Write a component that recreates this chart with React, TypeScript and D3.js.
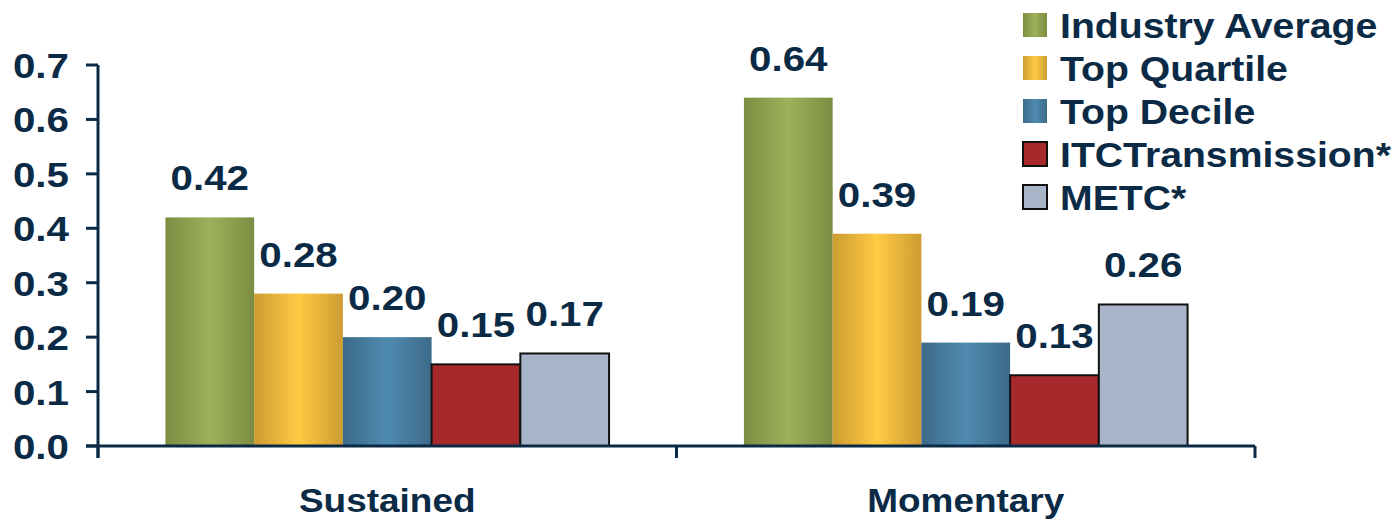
import * as d3 from "d3";

// Grouped bar chart: reliability index by category, five benchmark series.

const categories = ["Sustained", "Momentary"];
const series = ["Industry Average", "Top Quartile", "Top Decile", "ITCTransmission*", "METC*"];
const sustained = [0.42, 0.28, 0.2, 0.15, 0.17];
const momentary = [0.64, 0.39, 0.19, 0.13, 0.26];
const yTicks = [0, 0.1, 0.2, 0.3, 0.4, 0.5, 0.6, 0.7];

const INK = "#0a2a45";
const FONT = "'Liberation Sans', Arial, sans-serif";
// the source text is a little wider than plain Arial bold
const STRETCH = 1.12;

// gradient stops: edge, center, edge — flat ones get a black outline
const fills: { edge: string; mid: string; flat?: boolean }[] = [
  { edge: "#7c8d42", mid: "#9db05a" },
  { edge: "#cc9c32", mid: "#ffca43" },
  { edge: "#3c6a89", mid: "#4f8bb0" },
  { edge: "#a8292b", mid: "#a8292b", flat: true },
  { edge: "#a8b4c8", mid: "#a8b4c8", flat: true },
];

const W = 1392;
const H = 523;

function Label({
  x,
  y,
  size,
  anchor = "start",
  children,
}: {
  x: number;
  y: number;
  size: number;
  anchor?: "start" | "middle" | "end";
  children: React.ReactNode;
}) {
  return (
    <text
      transform={`translate(${x},${y}) scale(${STRETCH},1)`}
      textAnchor={anchor}
      fontSize={size}
      fontWeight="bold"
      fill={INK}
    >
      {children}
    </text>
  );
}

export default function App() {
  const values = [sustained, momentary];
  const y = d3.scaleLinear().domain([0, 0.7]).range([446, 65]);
  const x0 = d3.scaleBand<string>().domain(categories).range([98, 1255]).padding(0);
  const x1 = d3
    .scaleBand<string>()
    .domain(series)
    .range([0, x0.bandwidth()])
    .paddingInner(0)
    .paddingOuter(0.76);

  const edges = [98, 98 + x0.bandwidth(), 1255];

  return (
    <svg
      width={W}
      height={H}
      style={{ position: "absolute", left: 0, top: 0, background: "#fff" }}
      fontFamily={FONT}
    >
      <defs>
        {fills.map((f, i) => (
          <linearGradient key={i} id={`g${i}`} x1="0" x2="1" y1="0" y2="0">
            <stop offset="0" stopColor={f.edge} />
            <stop offset="0.5" stopColor={f.mid} />
            <stop offset="1" stopColor={f.edge} />
          </linearGradient>
        ))}
      </defs>

      {/* bars */}
      {categories.map((c, ci) =>
        series.map((s, si) => {
          const v = values[ci][si];
          const bx = (x0(c) ?? 0) + (x1(s) ?? 0);
          const bw = x1.bandwidth();
          const top = y(v);
          const f = fills[si];
          return (
            <g key={c + s}>
              <rect
                x={bx}
                y={top}
                width={bw}
                height={y(0) - top}
                fill={f.flat ? f.mid : `url(#g${si})`}
                stroke={f.flat ? "#111" : "none"}
                strokeWidth={f.flat ? 2 : 0}
              />
              <Label x={bx + bw / 2} y={top - 27} size={36} anchor="middle">
                {v.toFixed(2)}
              </Label>
            </g>
          );
        })
      )}

      {/* y axis */}
      <line x1={98} x2={98} y1={65} y2={458} stroke={INK} strokeWidth={3} />
      {yTicks.map((t) => (
        <g key={t}>
          <line x1={86} x2={98} y1={y(t)} y2={y(t)} stroke={INK} strokeWidth={3} />
          <Label x={69} y={y(t) + 13} size={36} anchor="end">
            {t.toFixed(1)}
          </Label>
        </g>
      ))}

      {/* x axis */}
      <line x1={86} x2={1255} y1={y(0)} y2={y(0)} stroke={INK} strokeWidth={3} />
      {edges.map((e, i) => (
        <line key={i} x1={e} x2={e} y1={y(0)} y2={458} stroke={INK} strokeWidth={3} />
      ))}
      {categories.map((c) => (
        <Label key={c} x={(x0(c) ?? 0) + x0.bandwidth() / 2} y={512} size={33} anchor="middle">
          {c}
        </Label>
      ))}

      {/* legend */}
      {series.map((s, i) => {
        const cy = 25 + i * 43;
        const f = fills[i];
        return (
          <g key={s}>
            <rect
              x={1023}
              y={cy - 12}
              width={24}
              height={24}
              fill={f.flat ? f.mid : `url(#g${i})`}
              stroke={f.flat ? "#111" : "none"}
              strokeWidth={f.flat ? 2 : 0}
            />
            <Label x={1060} y={cy + 13} size={35}>
              {s}
            </Label>
          </g>
        );
      })}
    </svg>
  );
}
